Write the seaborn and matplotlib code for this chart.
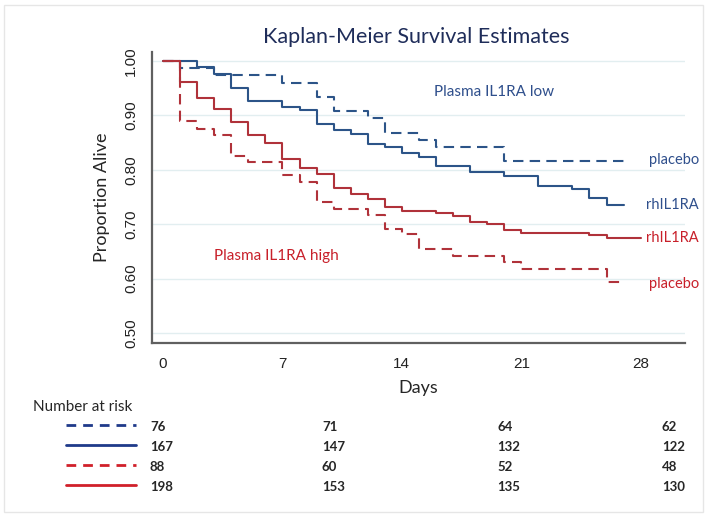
import numpy as np
import pandas as pd
import matplotlib
matplotlib.use("Agg")
import matplotlib.pyplot as plt
import seaborn as sns
from matplotlib.lines import Line2D
from matplotlib.patches import Rectangle

# Kaplan-Meier step data
low_placebo_t = [0, 1, 3, 7, 9, 10, 12, 13, 15, 16, 20, 27]
low_placebo_s = [1.0, 0.987, 0.974, 0.960, 0.933, 0.908, 0.895, 0.868, 0.855, 0.842, 0.816, 0.816]

low_rh_t = [0, 2, 3, 4, 5, 7, 8, 9, 10, 11, 12, 13, 14, 15, 16, 18, 20, 22, 24, 25, 26, 27]
low_rh_s = [1.0, 0.988, 0.976, 0.950, 0.926, 0.915, 0.909, 0.884, 0.873, 0.866, 0.847, 0.842,
            0.831, 0.824, 0.806, 0.795, 0.789, 0.770, 0.765, 0.748, 0.735, 0.735]

high_placebo_t = [0, 1, 2, 3, 4, 5, 7, 8, 9, 10, 12, 13, 14, 15, 17, 20, 21, 26, 27]
high_placebo_s = [1.0, 0.889, 0.875, 0.863, 0.826, 0.814, 0.790, 0.778, 0.740, 0.727, 0.717, 0.691,
                  0.681, 0.655, 0.642, 0.630, 0.617, 0.594, 0.594]

high_rh_t = [0, 1, 2, 3, 4, 5, 6, 7, 8, 9, 10, 11, 12, 13, 14, 16, 17, 18, 19, 20, 21, 25, 26, 28]
high_rh_s = [1.0, 0.962, 0.931, 0.911, 0.887, 0.864, 0.849, 0.820, 0.804, 0.793, 0.767, 0.755,
             0.746, 0.732, 0.725, 0.720, 0.715, 0.704, 0.700, 0.689, 0.684, 0.680, 0.674, 0.674]

# number at risk table
risk_low_placebo = [76, 71, 64, 62]
risk_low_rh = [167, 147, 132, 122]
risk_high_placebo = [88, 60, 52, 48]
risk_high_rh = [198, 153, 135, 130]

x_ticks = [0, 7, 14, 21, 28]
y_ticks = [0.5, 0.6, 0.7, 0.8, 0.9, 1.0]

blue = "#2c5488"
red = "#b0323a"
blue_txt = "#2f4f8c"
red_txt = "#c8202a"

sns.set_style("white")
plt.rcParams['font.family'] = ['Lato', 'DejaVu Sans']

fig = plt.figure(figsize=(7.08, 5.17), dpi=100)
ax = fig.add_axes([0.2147, 0.336, 0.7528, 0.564])

curves = [
    (low_placebo_t, low_placebo_s, blue, (5, 3)),
    (low_rh_t, low_rh_s, blue, None),
    (high_placebo_t, high_placebo_s, red, (5, 3)),
    (high_rh_t, high_rh_s, red, None),
]
for t, s, c, dash in curves:
    df = pd.DataFrame({"day": t, "surv": s})
    sns.lineplot(data=df, x="day", y="surv", drawstyle="steps-post", color=c,
                 linewidth=1.5, ax=ax)
    if dash is not None:
        ax.lines[-1].set_dashes(dash)

ax.set_xlim(-0.65, 30.6)
ax.set_ylim(0.481, 1.017)
ax.set_xticks(x_ticks)
ax.set_yticks(y_ticks)
ax.set_yticklabels([f"{v:.2f}" for v in y_ticks], rotation=90, va="center",
                   family="Liberation Sans", fontsize=11)
ax.set_xticklabels([str(v) for v in x_ticks], family="Liberation Sans", fontsize=11)
for v in y_ticks:
    ax.axhline(v, color="#e2eef0", lw=1, zorder=0)

for side in ["top", "right"]:
    ax.spines[side].set_visible(False)
for side in ["left", "bottom"]:
    ax.spines[side].set_color("#606060")
    ax.spines[side].set_linewidth(1.6)
ax.tick_params(axis="both", direction="out", length=6, width=1.4, color="#606060",
               pad=4, labelcolor="#222222")

ax.set_xlabel("Days", fontsize=13, labelpad=6)
ax.set_ylabel("Proportion Alive", fontsize=13, labelpad=10)
fig.text(0.588, 0.928, "Kaplan-Meier Survival Estimates", ha="center", va="center",
         fontsize=15.5, color="#1f2d5a")

# number at risk block and end labels use figure pixel coordinates
W, H = 708, 517
def fx(px):
    return px / W
def fy(py):
    return 1 - py / H

# group labels
ax.text(19.4, 0.943, "Plasma IL1RA low", color=blue_txt, fontsize=11, ha="center", va="center")
ax.text(6.65, 0.641, "Plasma IL1RA high", color=red_txt, fontsize=11, ha="center", va="center")
end_labels = [("placebo", blue_txt, 160), ("rhIL1RA", blue_txt, 205),
              ("rhIL1RA", red_txt, 238), ("placebo", red_txt, 284)]
for lab, c, py in end_labels:
    fig.text(fx(699), fy(py), lab, color=c, fontsize=10.5, ha="right", va="center")

fig.text(fx(33), fy(407), "Number at risk", fontsize=11, ha="left", va="center")
rows = [
    (risk_low_placebo, "#1f3a8a", "--", 427),
    (risk_low_rh, "#1f3a8a", "-", 447),
    (risk_high_placebo, "#d0202a", "--", 467),
    (risk_high_rh, "#d0202a", "-", 487),
]
col_x = [150, 322, 497, 662]
for vals, c, ls, py in rows:
    ln = Line2D([fx(66), fx(136)], [fy(py - 2), fy(py - 2)], transform=fig.transFigure,
                color=c, lw=2, linestyle=ls)
    if ls == "--":
        ln.set_dashes((3.5, 2.5))
    fig.add_artist(ln)
    for x, v in zip(col_x, vals):
        fig.text(fx(x), fy(py), str(v), fontsize=9.5, fontweight="bold",
                 ha="left", va="center")

fig.add_artist(Rectangle((fx(4), fy(512)), fx(699), 507 / H, transform=fig.transFigure,
                         fill=False, edgecolor="#e6e6e6", lw=1))

fig.savefig("out.png", dpi=100, facecolor="white")
